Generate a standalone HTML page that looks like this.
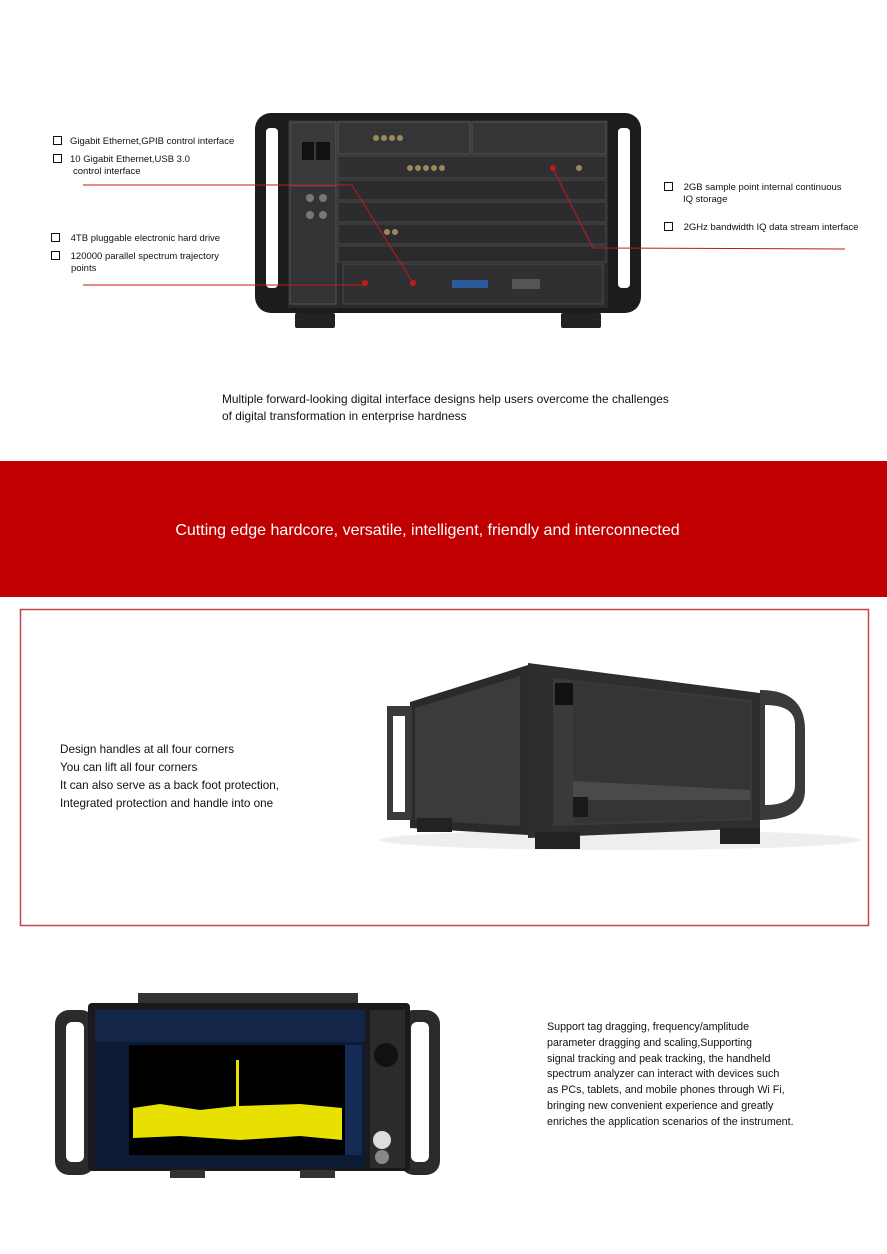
<!DOCTYPE html>
<html><head><meta charset="utf-8"><style>
body{margin:0;background:#fff;width:887px;height:1254px;position:relative;overflow:hidden;font-family:"Liberation Sans",sans-serif;}
.t{position:absolute;font-size:9.5px;color:#111;line-height:12px;}
.cb{display:inline-block;width:7px;height:7px;border:1.6px solid #111;margin-right:8px;vertical-align:-1px;}
</style></head><body>
<svg width="887" height="1254" style="position:absolute;left:0;top:0">
<rect x="255" y="113" width="386" height="200" rx="16" fill="#1c1c1e"/>
<rect x="266" y="128" width="12" height="160" rx="4" fill="#fff"/>
<rect x="618" y="128" width="12" height="160" rx="4" fill="#fff"/>
<rect x="288" y="120" width="320" height="188" fill="#2a2a2c"/>
<rect x="290" y="122" width="46" height="84" fill="#3a3a3c" stroke="#555"/>
<rect x="290" y="186" width="46" height="118" fill="#333336" stroke="#555"/>
<rect x="338" y="122" width="132" height="32" fill="#353537" stroke="#555"/>
<rect x="472" y="122" width="134" height="32" fill="#353537" stroke="#555"/>
<rect x="338" y="156" width="268" height="22" fill="#303032" stroke="#4a4a4c"/>
<rect x="338" y="180" width="268" height="20" fill="#2c2c2e" stroke="#4a4a4c"/>
<rect x="338" y="202" width="268" height="20" fill="#2c2c2e" stroke="#4a4a4c"/>
<rect x="338" y="224" width="268" height="20" fill="#2c2c2e" stroke="#4a4a4c"/>
<rect x="338" y="246" width="268" height="16" fill="#2a2a2c" stroke="#4a4a4c"/>
<rect x="343" y="264" width="260" height="40" fill="#303032" stroke="#4a4a4c"/>
<rect x="302" y="142" width="12" height="18" fill="#111"/>
<rect x="316" y="142" width="14" height="18" fill="#111"/>
<g fill="#9a8a5a"><circle cx="376" cy="138" r="3"/><circle cx="384" cy="138" r="3"/><circle cx="392" cy="138" r="3"/><circle cx="400" cy="138" r="3"/><circle cx="410" cy="168" r="3"/><circle cx="418" cy="168" r="3"/><circle cx="426" cy="168" r="3"/><circle cx="434" cy="168" r="3"/><circle cx="442" cy="168" r="3"/><circle cx="387" cy="232" r="3"/><circle cx="395" cy="232" r="3"/><circle cx="579" cy="168" r="3"/></g>
<g fill="#777"><circle cx="310" cy="198" r="4"/><circle cx="323" cy="198" r="4"/><circle cx="310" cy="215" r="4"/><circle cx="323" cy="215" r="4"/></g>
<rect x="452" y="280" width="36" height="8" fill="#2a5a9a"/>
<rect x="512" y="279" width="28" height="10" fill="#555"/>
<rect x="295" y="313" width="40" height="15" rx="2" fill="#222"/>
<rect x="561" y="313" width="40" height="15" rx="2" fill="#222"/>
<g stroke="#c01a1a" stroke-width="1" fill="none"><polyline points="83,185 352,185 413,283"/><line x1="83" y1="285" x2="365" y2="285"/><polyline points="553,169 593,248 845,249"/></g>
<g fill="#c01a1a"><circle cx="413" cy="283" r="3"/><circle cx="365" cy="283" r="3"/><circle cx="553" cy="168" r="3"/></g>
<rect x="0" y="461" width="887" height="136" fill="#c00000"/>
<rect x="20.5" y="609.5" width="848" height="316" fill="none" stroke="#c0474a" stroke-width="1.5"/>
<ellipse cx="620" cy="840" rx="240" ry="10" fill="#eee"/>
<polygon points="410,702 528,665 528,835 410,828" fill="#2a2a2c"/>
<polygon points="415,708 520,676 520,826 415,820" fill="#3b3b3d"/>
<polygon points="528,663 760,693 760,828 528,838" fill="#2e2e30"/>
<polygon points="553,678 752,700 752,820 553,826" fill="#3a3a3c"/>
<polygon points="573,681 750,703 750,818 573,823" fill="#353537"/>
<polygon points="573,781 750,790 750,800 573,800" fill="#4a4a4a"/>
<rect x="555" y="683" width="18" height="22" fill="#111"/>
<rect x="573" y="797" width="15" height="20" fill="#1a1a1a"/>
<path d="M387 706 h25 v114 h-25 z M393 716 v96 h12 v-96 z" fill="#3a3a3c" fill-rule="evenodd"/>
<path d="M760 690 q45 0 45 40 v60 q0 30 -45 30 z M765 705 v100 q30 0 30 -20 v-60 q0 -20 -30 -20z" fill="#3a3a3c" fill-rule="evenodd"/>
<rect x="417" y="818" width="35" height="14" fill="#222"/>
<rect x="535" y="832" width="45" height="17" fill="#222"/>
<rect x="720" y="828" width="40" height="16" fill="#222"/>
<rect x="55" y="1010" width="40" height="165" rx="14" fill="#2b2b2d"/>
<rect x="66" y="1022" width="18" height="140" rx="6" fill="#fff"/>
<rect x="400" y="1010" width="40" height="165" rx="14" fill="#2b2b2d"/>
<rect x="411" y="1022" width="18" height="140" rx="6" fill="#fff"/>
<rect x="138" y="993" width="220" height="12" fill="#333"/>
<rect x="88" y="1003" width="322" height="168" rx="4" fill="#1a1a1c"/>
<rect x="95" y="1010" width="270" height="158" fill="#0d1a33"/>
<rect x="95" y="1010" width="270" height="32" fill="#14254a"/>
<rect x="129" y="1045" width="216" height="110" fill="#000"/>
<polygon points="133,1108 160,1104 200,1110 236,1106 236,1060 239,1060 239,1106 300,1104 342,1108 342,1140 300,1136 240,1140 180,1136 133,1138" fill="#e8e000"/>
<rect x="345" y="1045" width="17" height="110" fill="#152a55"/>
<rect x="370" y="1010" width="35" height="158" fill="#2b2b2d"/>
<circle cx="386" cy="1055" r="12" fill="#111"/>
<circle cx="382" cy="1140" r="9" fill="#ddd"/>
<circle cx="382" cy="1157" r="7" fill="#888"/>
<rect x="170" y="1170" width="35" height="8" fill="#333"/>
<rect x="300" y="1170" width="35" height="8" fill="#333"/>
</svg>
<div class="t" style="left:53px;top:136px"><span class="cb"></span>Gigabit Ethernet,GPIB control interface</div>
<div class="t" style="left:53px;top:154px"><span class="cb"></span>10 Gigabit Ethernet,USB 3.0<br><span style="margin-left:20px">control interface</span></div>
<div class="t" style="left:51px;top:233px"><span class="cb"></span> 4TB pluggable electronic hard drive</div>
<div class="t" style="left:51px;top:251px"><span class="cb"></span> 120000 parallel spectrum trajectory<br><span style="margin-left:20px">points</span></div>
<div class="t" style="left:664px;top:182px"><span class="cb"></span> 2GB sample point internal continuous<br><span style="margin-left:19px">IQ storage</span></div>
<div class="t" style="left:664px;top:222px"><span class="cb"></span> 2GHz bandwidth IQ data stream interface</div>
<div class="t" style="left:222px;top:391px;font-size:11.9px;line-height:17px">Multiple forward-looking digital interface designs help users overcome the challenges<br>of digital transformation in enterprise hardness</div>
<div class="t" style="left:0;width:855px;text-align:center;top:521px;font-size:16px;line-height:20px;color:#fff">Cutting edge hardcore, versatile, intelligent, friendly and interconnected</div>
<div class="t" style="left:60px;top:741px;font-size:11.7px;line-height:18px">Design handles at all four corners<br>You can lift all four corners<br>It can also serve as a back foot protection,<br>Integrated protection and handle into one</div>
<div class="t" style="left:547px;top:1020px;font-size:10.7px;line-height:15.8px">Support tag dragging, frequency/amplitude<br>parameter dragging and scaling,Supporting<br>signal tracking and peak tracking, the handheld<br>spectrum analyzer can interact with devices such<br>as PCs, tablets, and mobile phones through Wi Fi,<br>bringing new convenient experience and greatly<br>enriches the application scenarios of the instrument.</div>
</body></html>
